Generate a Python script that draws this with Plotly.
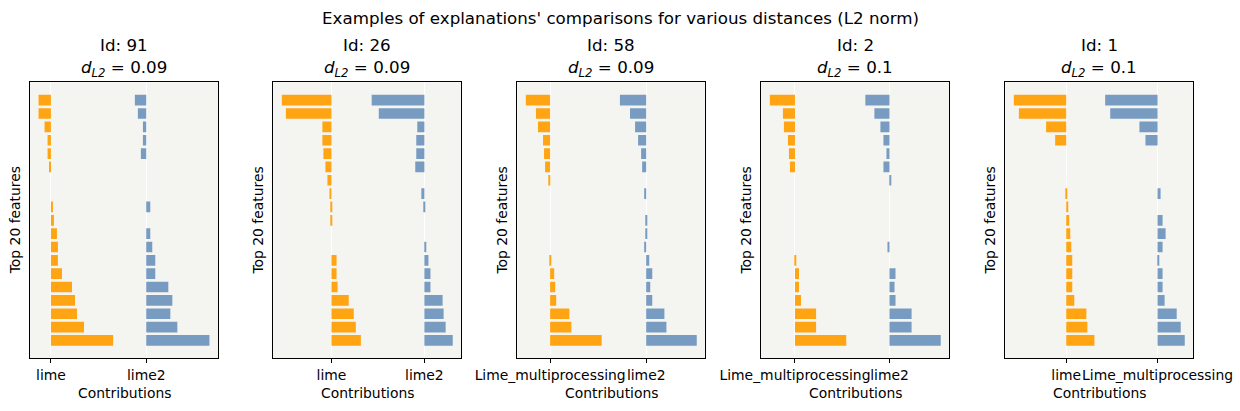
import plotly.graph_objects as go

# ---------------- data ----------------
ids = [91, 26, 58, 2, 1]
distances = [0.09, 0.09, 0.09, 0.1, 0.1]
method_a = ["lime", "lime", "Lime_multiprocessing", "Lime_multiprocessing", "lime"]
method_b = ["lime2", "lime2", "lime2", "lime2", "Lime_multiprocessing"]
column_offsets = [0.285, 0.275, 0.285, 0.282, 0.272]

contrib_a_91 = [-37, -37, -19, -10, -10, -4, 0, 0, 6, 9, 18, 21, 21, 33, 63, 72, 78, 99, 186]
contrib_b_91 = [-34, -25, -10, -10, -16, 0, 0, 0, 12, 0, 12, 18, 27, 27, 66, 78, 72, 93, 189]
contrib_a_26 = [-147, -135, -27, -27, -24, -18, -12, -6, -3, -3, 0, 0, 15, 15, 18, 51, 66, 72, 87]
contrib_b_26 = [-156, -135, -21, -24, -24, -27, 0, -9, -3, 0, 0, 3, 12, 18, 18, 54, 57, 63, 84]
contrib_a_58 = [-72, -42, -36, -21, -18, -15, -3, 0, 0, 0, 0, 0, 3, 12, 15, 18, 57, 63, 153]
contrib_b_58 = [-78, -48, -33, -24, -15, -12, 0, -6, 0, 3, 3, -6, 9, 18, 12, 18, 54, 60, 150]
contrib_a_2 = [-75, -36, -33, -21, -18, -15, 0, 0, 0, 0, 0, 0, 3, 12, 12, 18, 63, 63, 153]
contrib_b_2 = [-72, -45, -27, -18, -9, -18, 3, 0, 0, 0, 0, -6, 0, 18, 15, 18, 66, 66, 153]
contrib_a_1 = [-156, -141, -60, -33, 0, 0, 0, 3, 6, 9, 12, 15, 18, 18, 18, 24, 60, 63, 84]
contrib_b_1 = [-156, -141, -54, -36, 0, 0, 0, 9, 0, 15, 24, 15, 3, 15, 15, 21, 57, 69, 81]

contribs_a = [contrib_a_91, contrib_a_26, contrib_a_58, contrib_a_2, contrib_a_1]
contribs_b = [contrib_b_91, contrib_b_26, contrib_b_58, contrib_b_2, contrib_b_1]
SCALE = 1000.0

# ---------------- style ----------------
W, H = 1240, 411
ORANGE = "#ffa514"
BLUE = "#789cc1"
BG = "#f4f4f0"
FONT = "DejaVu Sans"
ax_left_px = [30.0, 273.3, 517.3, 761.3, 1005.3]
ax_width_px = 188.0
ax_top_px, ax_bot_px = 82.3, 358.3

fig = go.Figure()
annotations = []

for i in range(5):
    xa = "x" if i == 0 else f"x{i+1}"
    ya = "y" if i == 0 else f"y{i+1}"
    a = [v / SCALE for v in contribs_a[i]]
    b = [v / SCALE for v in contribs_b[i]]
    off = column_offsets[i]
    rows = list(range(len(a)))
    fig.add_trace(go.Bar(y=rows, x=a, base=0, orientation="h", width=0.8,
                         marker=dict(color=ORANGE, line=dict(width=0)),
                         xaxis=xa, yaxis=ya, showlegend=False))
    fig.add_trace(go.Bar(y=rows, x=b, base=off, orientation="h", width=0.8,
                         marker=dict(color=BLUE, line=dict(width=0)),
                         xaxis=xa, yaxis=ya, showlegend=False))
    lo = min(min(a), 0, off + min(b))
    hi = max(max(a), off, off + max(b))
    m = 0.05 * (hi - lo)
    n = len(a)
    ym = 0.05 * (n - 1 + 0.8)
    left = ax_left_px[i]
    dom_x = [left / W, (left + ax_width_px) / W]
    dom_y = [1 - ax_bot_px / H, 1 - ax_top_px / H]
    key_x = "xaxis" if i == 0 else f"xaxis{i+1}"
    key_y = "yaxis" if i == 0 else f"yaxis{i+1}"
    fig.update_layout({
        key_x: dict(domain=dom_x, anchor=ya, range=[lo - m, hi + m],
                    tickmode="array", tickvals=[0, off],
                    ticktext=[method_a[i], method_b[i]],
                    tickangle=0, automargin=False,
                    ticks="outside", ticklen=4, tickcolor="black", tickwidth=1,
                    showgrid=True, gridcolor="white", gridwidth=1,
                    zeroline=False, showline=True, mirror=True,
                    linecolor="black", linewidth=1,
                    tickfont=dict(family=FONT, size=13.9, color="black")),
        key_y: dict(domain=dom_y, anchor=xa, automargin=False,
                    range=[n - 1 + 0.4 + ym, -0.4 - ym],
                    showticklabels=False, ticks="", showgrid=False,
                    zeroline=False, showline=True, mirror=True,
                    linecolor="black", linewidth=1),
    })
    cx = (left + ax_width_px / 2) / W
    annotations.append(dict(text=f"Id: {ids[i]}", x=cx, y=1 - 45 / H,
                            xref="paper", yref="paper", showarrow=False,
                            xanchor="center", yanchor="middle",
                            font=dict(family=FONT, size=16.7, color="black")))
    annotations.append(dict(text=f"<i>d</i><sub><i>L2</i></sub> = {distances[i]}",
                            x=cx, y=1 - 68 / H,
                            xref="paper", yref="paper", showarrow=False,
                            xanchor="center", yanchor="middle",
                            font=dict(family=FONT, size=16.7, color="black")))
    annotations.append(dict(text="Contributions", x=cx, y=1 - 393 / H,
                            xref="paper", yref="paper", showarrow=False,
                            xanchor="center", yanchor="middle",
                            font=dict(family=FONT, size=13.9, color="black")))
    annotations.append(dict(text="Top 20 features", x=(left - 15) / W,
                            y=1 - (ax_top_px + ax_bot_px) / 2 / H,
                            xref="paper", yref="paper", showarrow=False,
                            textangle=-90, xanchor="center", yanchor="middle",
                            font=dict(family=FONT, size=13.9, color="black")))

annotations.append(dict(text="Examples of explanations' comparisons for various distances (L2 norm)",
                        x=0.5, y=1 - 18 / H, xref="paper", yref="paper",
                        showarrow=False, xanchor="center", yanchor="middle",
                        font=dict(family=FONT, size=16.7, color="black")))

fig.update_layout(width=W, height=H, margin=dict(l=0, r=0, t=0, b=0),
                  paper_bgcolor="white", plot_bgcolor=BG, barmode="overlay",
                  annotations=annotations, showlegend=False)

fig.write_html("out.html")
